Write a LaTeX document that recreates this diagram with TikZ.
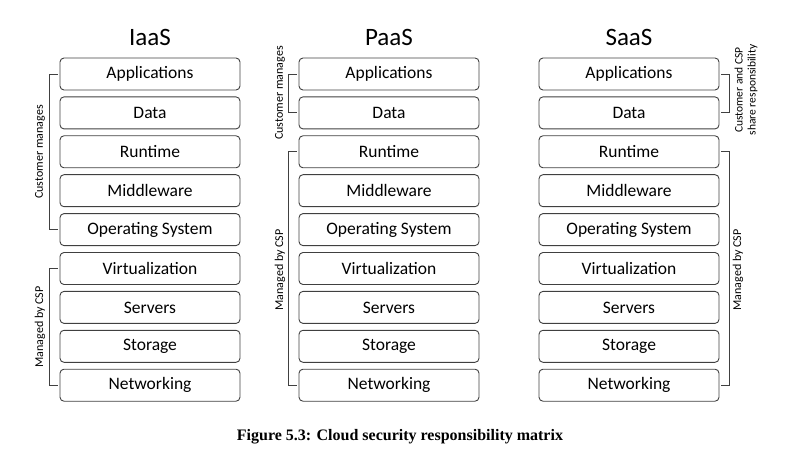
\documentclass[tikz,border=0pt]{standalone}
\usepackage{fontspec}
\setmainfont{Carlito}
\newfontfamily\capfont{Liberation Serif}
\begin{document}
\begin{tikzpicture}[x=1pt,y=-1pt,
  lay/.style={draw=black!75,line width=0.9pt,rounded corners=4pt,minimum width=180pt,minimum height=32pt,font=\fontsize{17.5}{19}\selectfont,inner sep=0pt},
  ttl/.style={font=\fontsize{25}{28}\selectfont},
  brk/.style={draw=black!75,line width=0.8pt},
  lbl/.style={font=\fontsize{12}{13}\selectfont,rotate=90,align=center}]
\useasboundingbox (0,0) rectangle (800,454);
\def\names{Applications,Data,Runtime,Middleware,Operating System,Virtualization,Servers,Storage,Networking}
\foreach \c/\x in {i/150,p/389,s/629}{
  \foreach \t [count=\k] in \names{
    \node[lay] (\c\k) at (\x,{74+38.9*(\k-1)}) {\t};
  }
}
\node[ttl] (ti) at (150,37) {IaaS};
\node[ttl] (tp) at (389,37) {PaaS};
\node[ttl] (ts) at (629,37) {SaaS};
% IaaS brackets
\draw[brk] (i1.west) ++(-2,0) -- ++(-8,0) |- ([xshift=-2pt]i5.west);
\draw[brk] (i6.west) ++(-2,0) -- ++(-8,0) |- ([xshift=-2pt]i9.west);
\node[lbl] (li1) at (40,152) {Customer manages};
\node[lbl] (li2) at (40,327) {Managed by CSP};
% PaaS brackets
\draw[brk] (p1.west) ++(-2,0) -- ++(-8,0) |- ([xshift=-2pt]p2.west);
\draw[brk] (p3.west) ++(-2,0) -- ++(-8,0) |- ([xshift=-2pt]p9.west);
\node[lbl] (lp1) at (280,93) {Customer manages};
\node[lbl] (lp2) at (280,270) {Managed by CSP};
% SaaS brackets
\draw[brk] (s1.east) ++(2,0) -- ++(8,0) |- ([xshift=2pt]s2.east);
\draw[brk] (s3.east) ++(2,0) -- ++(8,0) |- ([xshift=2pt]s9.east);
\node[lbl,font=\fontsize{11.5}{13}\selectfont] (ls1) at (746,90) {Customer and CSP\\share responsibility};
\node[lbl] (ls2) at (738,270) {Managed by CSP};
\node[font=\capfont\bfseries\fontsize{16}{18}\selectfont] (cap) at (400,437) {Figure 5.3: Cloud security responsibility matrix};
\end{tikzpicture}
\end{document}
